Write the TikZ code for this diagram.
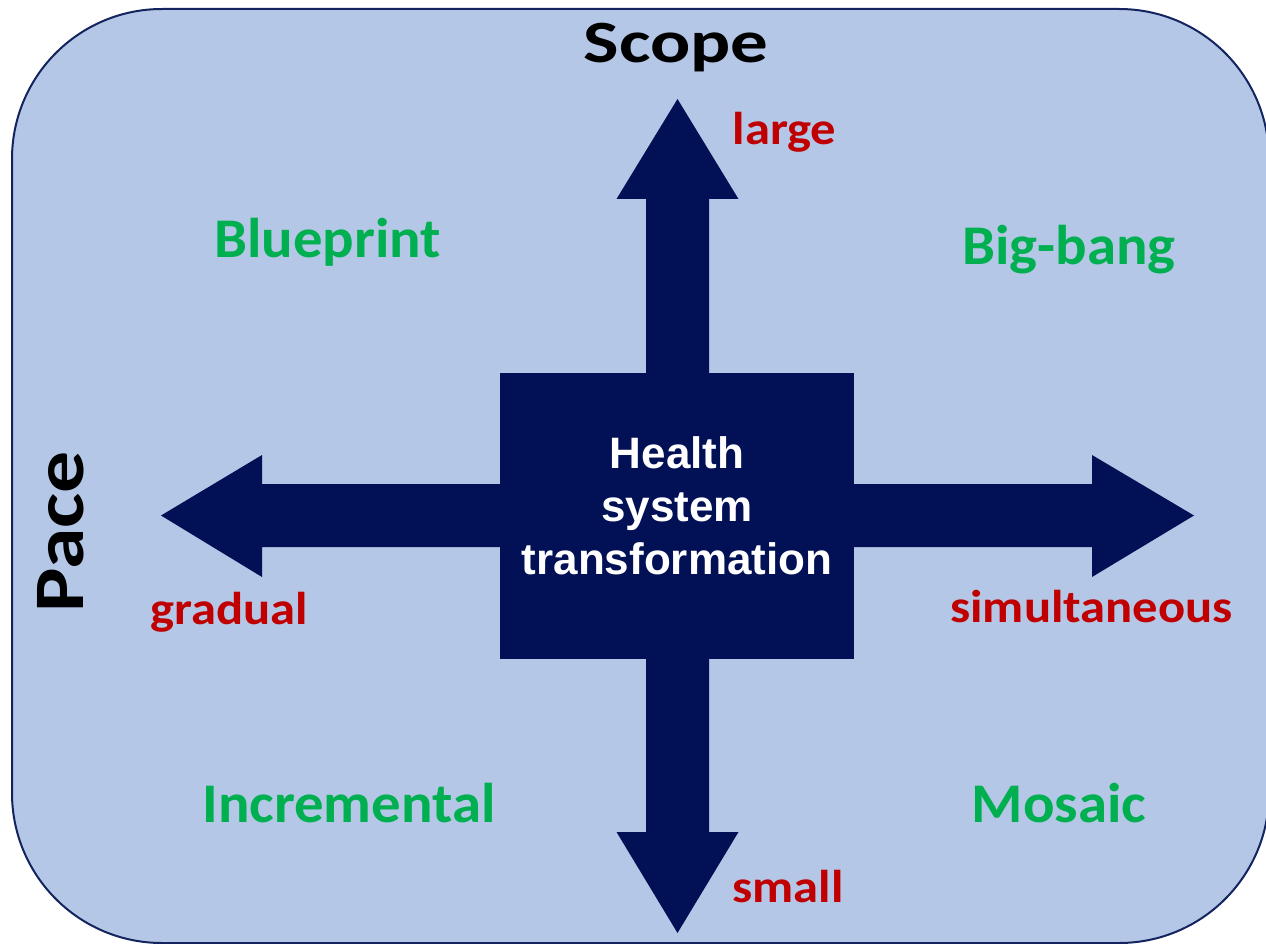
\documentclass[tikz,border=0pt]{standalone}
\usepackage{fontspec}
\setmainfont{Carlito}
\newfontfamily\arialfont{Liberation Sans}
\usetikzlibrary{positioning, calc}

\definecolor{panelblue}{HTML}{B4C7E7}
\definecolor{panelline}{HTML}{14245E}
\definecolor{navy}{HTML}{021156}
\definecolor{quadgreen}{HTML}{00B050}
\definecolor{endred}{HTML}{C00000}

% horizontal stretch of a label
\newcommand{\widen}[2]{\scalebox{#1}[1]{#2}}

\tikzset{
  axis/.style={font=\fontsize{60}{70}\selectfont\bfseries, text=black, anchor=base, inner sep=0pt},
  quad/.style={font=\fontsize{56}{60}\selectfont\bfseries, text=quadgreen, anchor=base, inner sep=0pt},
  pole/.style={font=\fontsize{46}{50}\selectfont\bfseries, text=endred, anchor=base, inner sep=0pt},
  hub/.style={fill=navy, minimum width=354pt, minimum height=286pt, inner sep=0pt},
  hubtext/.style={font=\arialfont\fontsize{44}{53}\selectfont\bfseries, text=white, align=center, inner sep=0pt}
}

\begin{document}
\begin{tikzpicture}[x=1pt, y=-1pt]
  \useasboundingbox (0,0) rectangle (1266,944);
  \draw [fill=panelblue, draw=panelline, line width=2pt, rounded corners=150pt] (12,9) rectangle (1269,943);

  % block arrows
  \fill [navy] (646,373) -- (646,199) -- (616.5,199) -- (677.5,99) -- (738.5,199) -- (709,199) -- (709,373) -- cycle;
  \fill [navy] (646,659) -- (646,832) -- (616.5,832) -- (677.5,933) -- (738.5,832) -- (709,832) -- (709,659) -- cycle;
  \fill [navy] (500,484) -- (262,484) -- (262,455) -- (161,515.5) -- (262,577) -- (262,547) -- (500,547) -- cycle;
  \fill [navy] (854,484) -- (1092,484) -- (1092,455) -- (1194,515.5) -- (1092,577) -- (1092,547) -- (854,547) -- cycle;

  \node (hub) [hub] at (677,516) {};
  \node (hubtxt) [hubtext] at (677,506) {Health\\system\\transformation};

  % axes
  \node (scope) [axis] at (676,63) {\widen{1.25}{Scope}};
  \node (pace) [axis, font=\fontsize{71}{80}\selectfont\bfseries, rotate=90] at (83,532) {\widen{1.18}{Pace}};

  % poles
  \node (large) [pole] at (784.5,145) {\widen{1.1}{large}};
  \node (small) [pole] at (788,902) {\widen{1.1}{small}};
  \node (gradual) [pole] at (229.5,624) {\widen{1.1}{gradual}};
  \node (simul) [pole] at (1091.5,622) {\widen{1.1}{simultaneous}};

  % quadrants
  \node (blueprint) [quad] at (327.5,258) {\widen{1.05}{Blueprint}};
  \node (bigbang) [quad] at (1069,264) {\widen{1.05}{Big-bang}};
  \node (incr) [quad] at (349,822) {\widen{1.05}{Incremental}};
  \node (mosaic) [quad] at (1059,822) {\widen{1.05}{Mosaic}};
\end{tikzpicture}
\end{document}
